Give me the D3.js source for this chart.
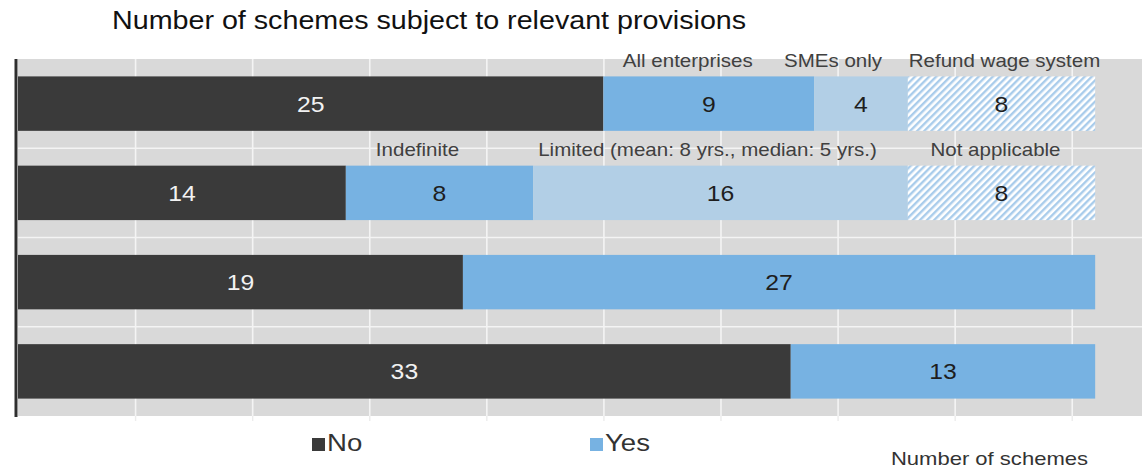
<!DOCTYPE html>
<html>
<head>
<meta charset="utf-8">
<script src="https://cdn.jsdelivr.net/npm/d3@7"></script>
<style>
  html, body { margin: 0; padding: 0; background: #ffffff; }
  svg { display: block; font-family: "Liberation Sans", Arial, sans-serif; }
</style>
</head>
<body>
<svg id="chart" width="1142" height="469"></svg>
<script>
// Rows of the chart, top to bottom
const rows = ["1", "2", "3", "4"];

// Series values (number of schemes)
const noCounts      = [25, 14, 19, 33];
const yesPrimary    = [9, 8, 27, 13];
const yesSecondary  = [4, 16, 0, 0];
const notApplicable = [8, 8, 0, 0];

// Segment captions shown above the first two rows
const primaryLabels   = ["All enterprises", "Indefinite", "", ""];
const secondaryLabels = ["SMEs only", "Limited (mean: 8 yrs., median: 5 yrs.)", "", ""];
const naLabels        = ["Refund wage system", "Not applicable", "", ""];

// Gridline positions on the count axis
const xTicks = [5, 10, 15, 20, 25, 30, 35, 40, 45];

const legendItems = ["No", "Yes"];
const titleText = "Number of schemes subject to relevant provisions";
const axisTitle = "Number of schemes";

// ---- layout ----
const W = 1142, H = 469;
const plot = { left: 18, right: 1142, top: 59, bottom: 416 };

const svg = d3.select("#chart");

const x = d3.scaleLinear().domain([0, 48]).range([plot.left, plot.right]);
const y = d3.scaleBand().domain(rows).range([plot.top, plot.bottom])
  .paddingInner(0.39).paddingOuter(0.195);

const colors = {
  no: "#3a3a3a",
  yes: "#77b2e2",
  yesLight: "#b2cfe6",
  grid: "#f4f4f4",
  bg: "#d9d9d9",
  text: "#404040"
};

// hatch pattern for "not applicable" segments
const defs = svg.append("defs");
const pat = defs.append("pattern")
  .attr("id", "hatch")
  .attr("patternUnits", "userSpaceOnUse")
  .attr("width", 5).attr("height", 5)
  .attr("patternTransform", "rotate(45)");
pat.append("rect").attr("width", 5).attr("height", 5).attr("fill", "#ffffff");
pat.append("rect").attr("width", 2.4).attr("height", 5).attr("fill", "#a9cceb");

// text helper: draws text with a horizontal stretch around its anchor point
function label(g, txt, px, py, opts) {
  const o = Object.assign({ size: 18, sx: 1.14, anchor: "middle", fill: colors.text }, opts || {});
  return g.append("text")
    .attr("transform", `translate(${px},${py}) scale(${o.sx},1)`)
    .attr("text-anchor", o.anchor)
    .attr("font-size", o.size)
    .attr("fill", o.fill)
    .text(txt);
}

// plot background
svg.append("rect")
  .attr("x", plot.left).attr("y", plot.top)
  .attr("width", plot.right - plot.left).attr("height", plot.bottom - plot.top)
  .attr("fill", colors.bg);

// vertical gridlines (plus small ticks below the plot)
const xAxis = d3.axisBottom(x).tickValues(xTicks).tickSize(-(plot.bottom - plot.top)).tickFormat("");
const gx = svg.append("g").attr("transform", `translate(0,${plot.bottom})`).call(xAxis);
gx.select(".domain").remove();
gx.selectAll(".tick line").attr("stroke", colors.grid).attr("stroke-width", 1.6);
gx.selectAll(".tick").append("line")
  .attr("y1", 0).attr("y2", 5).attr("stroke", "#ececec").attr("stroke-width", 1.4);

// horizontal gridlines between rows
const bounds = rows.slice(1).map(r => y(r) - y.step() * y.paddingInner() / 2);
svg.append("g").selectAll("line").data(bounds).join("line")
  .attr("x1", plot.left).attr("x2", plot.right)
  .attr("y1", d => d).attr("y2", d => d)
  .attr("stroke", colors.grid).attr("stroke-width", 1.6);

// stacked bars
const keys = ["no", "yesPrimary", "yesSecondary", "na"];
const table = rows.map((r, i) => ({
  row: r,
  no: noCounts[i],
  yesPrimary: yesPrimary[i],
  yesSecondary: yesSecondary[i],
  na: notApplicable[i],
  labels: { yesPrimary: primaryLabels[i], yesSecondary: secondaryLabels[i], na: naLabels[i] }
}));
const stacked = d3.stack().keys(keys)(table);
const fills = { no: colors.no, yesPrimary: colors.yes, yesSecondary: colors.yesLight, na: "url(#hatch)" };

const barG = svg.append("g");
stacked.forEach(series => {
  barG.append("g").attr("fill", fills[series.key])
    .selectAll("rect")
    .data(series.filter(d => d[1] - d[0] > 0))
    .join("rect")
    .attr("x", d => x(d[0]))
    .attr("y", d => y(d.data.row))
    .attr("width", d => x(d[1]) - x(d[0]))
    .attr("height", y.bandwidth());
});

// left axis line
const gy = svg.append("g").attr("transform", `translate(${plot.left - 2},0)`)
  .call(d3.axisLeft(y).tickSize(0).tickFormat(""));
gy.select(".domain").attr("stroke", "#2e2e2e").attr("stroke-width", 3)
  .attr("d", `M0,${plot.top}V${plot.bottom + 1}`);

// value labels inside segments
const valG = svg.append("g");
stacked.forEach(series => {
  series.filter(d => d[1] - d[0] > 0).forEach(d => {
    const cx = (x(d[0]) + x(d[1])) / 2;
    const cy = y(d.data.row) + y.bandwidth() / 2 + 8;
    label(valG, d[1] - d[0], cx, cy, {
      size: 22.5, sx: 1.1,
      fill: series.key === "no" ? "#f2f2f2" : "#1e1e1e"
    });
  });
});

// segment captions above the bars (nudged to sit clear of one another)
const captionShift = { yesPrimary: [-21, -22], yesSecondary: [-28, -13], na: [3, -6] };
const capG = svg.append("g");
stacked.forEach(series => {
  if (series.key === "no") return;
  series.forEach((d, i) => {
    const txt = d.data.labels[series.key];
    if (!txt) return;
    const cx = (x(d[0]) + x(d[1])) / 2 + captionShift[series.key][i];
    label(capG, txt, cx, y(d.data.row) - 9.5, { size: 18, sx: 1.14 });
  });
});

// title
label(svg, titleText, 112, 29, { size: 25, sx: 1.147, anchor: "start", fill: "#111111" });

// legend
const legendColor = { No: colors.no, Yes: colors.yes };
const legendX = { No: 312, Yes: 590 };
legendItems.forEach(k => {
  svg.append("rect").attr("x", legendX[k]).attr("y", 438)
    .attr("width", 13).attr("height", 13).attr("fill", legendColor[k]);
  label(svg, k, legendX[k] + 15, 451, { size: 23, sx: 1.2, anchor: "start", fill: "#333333" });
});

// axis title
label(svg, axisTitle, 1088, 465, { size: 19, sx: 1.16, anchor: "end", fill: "#333333" });
</script>
</body>
</html>
